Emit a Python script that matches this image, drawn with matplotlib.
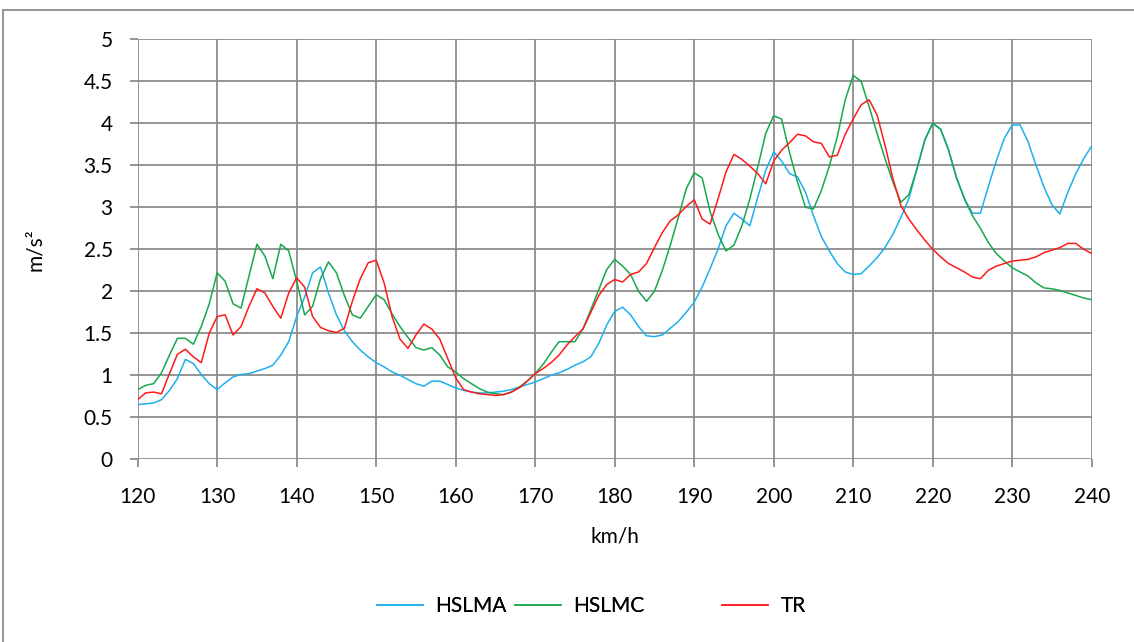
import numpy as np
import matplotlib.pyplot as plt
from matplotlib.patches import Rectangle

plt.rcParams['font.family'] = ['Lato', 'DejaVu Sans']

speed = list(range(120, 241))

hslma = [0.65, 0.66, 0.67, 0.71, 0.82, 0.96, 1.19, 1.14, 1.01, 0.90,
         0.83, 0.91, 0.98, 1.01, 1.02, 1.05, 1.08, 1.12, 1.24, 1.40,
         1.70, 1.93, 2.22, 2.29, 1.98, 1.72, 1.53, 1.40, 1.30, 1.22,
         1.15, 1.10, 1.04, 1.00, 0.95, 0.90, 0.87, 0.93, 0.93, 0.89,
         0.85, 0.82, 0.80, 0.79, 0.79, 0.80, 0.81, 0.83, 0.86, 0.89,
         0.92, 0.96, 1.00, 1.03, 1.07, 1.12, 1.16, 1.22, 1.38, 1.60,
         1.76, 1.81, 1.72, 1.58, 1.47, 1.46, 1.48, 1.56, 1.64, 1.75,
         1.87, 2.05, 2.27, 2.50, 2.78, 2.93, 2.86, 2.78, 3.12, 3.44,
         3.66, 3.55, 3.40, 3.36, 3.18, 2.90, 2.65, 2.48, 2.33, 2.23,
         2.20, 2.21, 2.30, 2.40, 2.52, 2.68, 2.88, 3.10, 3.45, 3.80,
         4.00, 3.93, 3.68, 3.35, 3.10, 2.93, 2.93, 3.25, 3.55, 3.82,
         3.98, 3.98, 3.78, 3.50, 3.24, 3.03, 2.92, 3.18, 3.40, 3.58,
         3.73]

hslmc = [0.83, 0.88, 0.90, 1.03, 1.24, 1.44, 1.44, 1.37, 1.58, 1.85,
         2.22, 2.12, 1.85, 1.80, 2.18, 2.56, 2.42, 2.15, 2.56, 2.48,
         2.12, 1.72, 1.82, 2.15, 2.35, 2.22, 1.95, 1.72, 1.68, 1.82,
         1.96, 1.90, 1.73, 1.58, 1.45, 1.33, 1.30, 1.33, 1.24, 1.10,
         1.04, 0.96, 0.90, 0.84, 0.80, 0.78, 0.77, 0.80, 0.86, 0.93,
         1.02, 1.13, 1.27, 1.40, 1.40, 1.40, 1.55, 1.78, 2.02, 2.26,
         2.38, 2.30, 2.20, 2.00, 1.88, 2.00, 2.25, 2.55, 2.88, 3.22,
         3.41, 3.35, 2.95, 2.68, 2.48, 2.55, 2.78, 3.10, 3.48, 3.88,
         4.09, 4.05, 3.65, 3.30, 3.00, 2.98, 3.20, 3.49, 3.84, 4.28,
         4.57, 4.50, 4.20, 3.88, 3.58, 3.30, 3.06, 3.15, 3.45, 3.80,
         4.00, 3.93, 3.68, 3.35, 3.10, 2.90, 2.75, 2.58, 2.45, 2.36,
         2.28, 2.23, 2.18, 2.10, 2.04, 2.03, 2.01, 1.98, 1.95, 1.92,
         1.90]

tr = [0.71, 0.79, 0.80, 0.78, 1.02, 1.25, 1.31, 1.22, 1.15, 1.50,
      1.70, 1.72, 1.48, 1.58, 1.82, 2.03, 1.98, 1.82, 1.68, 1.98,
      2.16, 2.05, 1.70, 1.57, 1.53, 1.51, 1.56, 1.88, 2.15, 2.34,
      2.37, 2.10, 1.70, 1.43, 1.32, 1.48, 1.61, 1.55, 1.43, 1.20,
      0.97, 0.83, 0.80, 0.78, 0.77, 0.76, 0.77, 0.80, 0.85, 0.93,
      1.02, 1.08, 1.15, 1.24, 1.36, 1.46, 1.55, 1.75, 1.95, 2.08,
      2.14, 2.11, 2.20, 2.23, 2.33, 2.52, 2.70, 2.84, 2.91, 3.01,
      3.09, 2.86, 2.80, 3.10, 3.42, 3.63, 3.57, 3.49, 3.40, 3.28,
      3.55, 3.68, 3.77, 3.87, 3.85, 3.78, 3.76, 3.60, 3.62, 3.87,
      4.05, 4.22, 4.28, 4.10, 3.74, 3.34, 3.02, 2.86, 2.73, 2.61,
      2.50, 2.41, 2.33, 2.28, 2.23, 2.17, 2.15, 2.25, 2.30, 2.33,
      2.36, 2.37, 2.38, 2.41, 2.46, 2.49, 2.52, 2.57, 2.57, 2.50,
      2.45]

names = ["HSLMA", "HSLMC", "TR"]
colors = ["#1CB0EC", "#16A84E", "#FF1A1A"]
legend_x = [377, 515, 722]  # left end of each legend entry, in pixels
gridcol = "#8C8C8C"

fig = plt.figure(figsize=(11.34, 6.42), dpi=100)
ax = fig.add_axes([0.1214, 0.2846, 0.8413, 0.6542])

lines = []
for y, name, col in zip([hslma, hslmc, tr], names, colors):
    ln, = ax.plot(speed, y, color=col, lw=1.1, label=name)
    lines.append(ln)

ax.set_xlim(120, 240)
ax.set_ylim(0, 5)
ax.set_xticks(np.arange(120, 241, 10))
ax.set_yticks(np.arange(0, 5.01, 0.5))
ax.set_yticklabels(["%g" % v for v in np.arange(0, 5.01, 0.5)])
ax.grid(True, color=gridcol, lw=1.3)
ax.set_axisbelow(True)
for s in ax.spines.values():
    s.set_visible(False)
ax.tick_params(axis='both', colors=gridcol, labelcolor='black', labelsize=15,
               length=6, width=1.3)
ax.tick_params(axis='x', pad=14)
ax.tick_params(axis='y', pad=12)

ax.set_xlabel("km/h", fontsize=15, labelpad=14)
ax.set_ylabel("m/s²", fontsize=15)
ax.yaxis.set_label_coords(-0.097, 0.5)

# separate legend entries, Excel places them unevenly
for ln, px in zip(lines, legend_x):
    leg = fig.legend(handles=[ln], loc='center left',
                     bbox_to_anchor=(px / 1134, 1 - 606 / 642),
                     frameon=False, fontsize=15, handlelength=2.2,
                     handletextpad=0.6, borderpad=0, borderaxespad=0)
    fig.add_artist(leg)

fig.patches.append(Rectangle((3 / 1134, -0.05), 1.1, 1 - 10 / 642 + 0.05,
                             transform=fig.transFigure, fill=False,
                             edgecolor="#8C8C8C", lw=1.3))

fig.savefig("out.png", dpi=100)
